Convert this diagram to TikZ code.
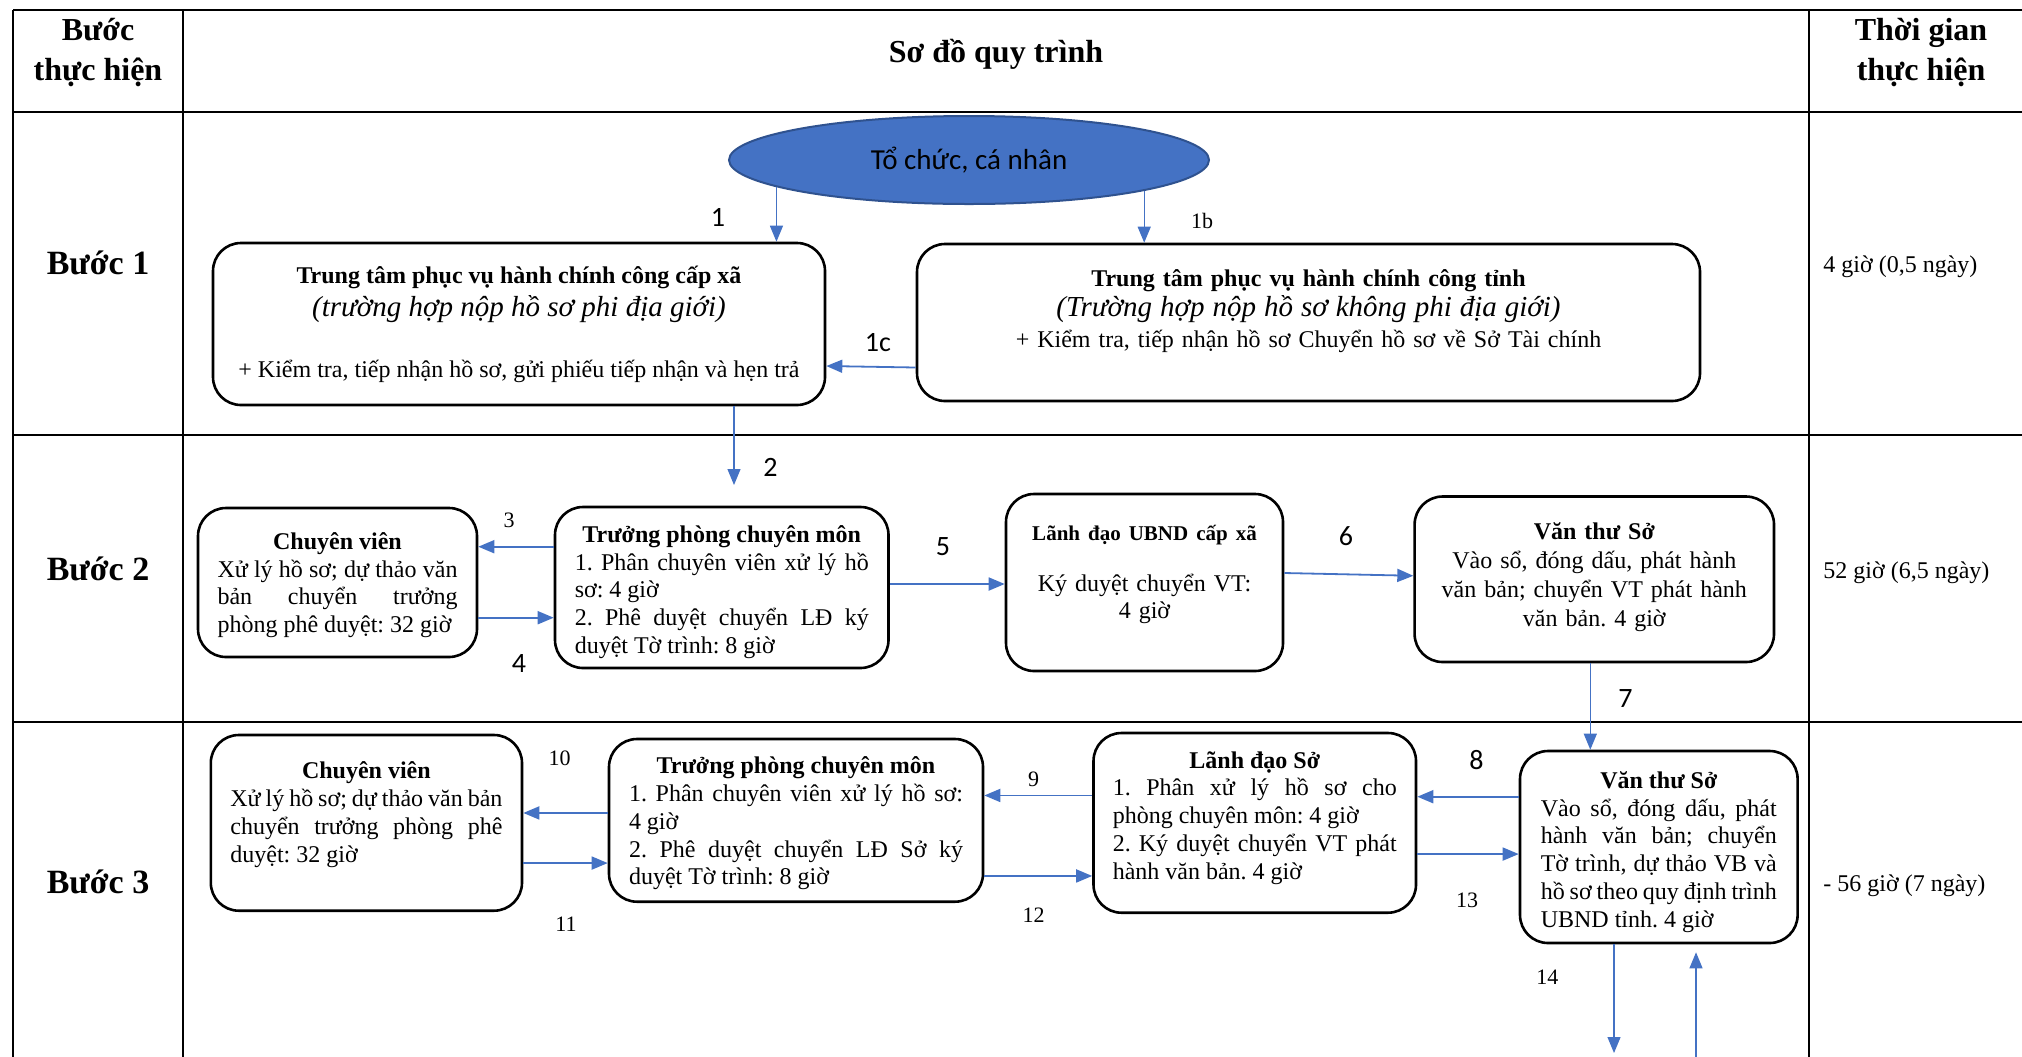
\documentclass[tikz,border=0pt]{standalone}
\usepackage{fontspec}
\setmainfont{Liberation Serif}
\newfontfamily\calib{Carlito}
\usetikzlibrary{shapes.geometric}
\usetikzlibrary{arrows.meta}
\definecolor{orgblue}{HTML}{4472C4}
\definecolor{orgline}{HTML}{2F528F}
\definecolor{arrblue}{HTML}{4472C4}
\hyphenpenalty=10000
\exhyphenpenalty=10000
\frenchspacing
\newcommand{\padtop}[1]{\rule{0pt}{#1}\par\nointerlineskip}
\newcommand{\padbot}[1]{\par\nointerlineskip\rule{0pt}{#1}}
\tikzset{
  box/.style= {draw, rounded corners=14pt, line width=1.3pt, inner sep=3pt,
    font=\fontsize{12}{13.9}\selectfont, execute at begin node=\fontsize{12}{13.9}\selectfont\frenchspacing},
  jbox/.style= {box, align=justify},
  cbox/.style= {box, align=center},
  org/.style= {ellipse, draw=orgline, fill=orgblue, line width=1pt, inner sep=0pt,
    minimum width=240pt, minimum height=44pt, font=\calib\fontsize{14.5}{17}\selectfont},
  arr/.style= {-{Triangle[length=8pt,width=6.5pt]}, draw=arrblue, line width=0.9pt},
  tarr/.style= {arr, line width=0.6pt},
  lbl/.style= {inner sep=0pt, font=\calib\fontsize{14}{16}\selectfont},
  num/.style= {inner sep=0pt, font=\fontsize{11}{13}\selectfont},
  head/.style= {align=center, inner sep=0pt, font=\bfseries\fontsize{16}{20}\selectfont},
  stepname/.style= {inner sep=0pt, font=\bfseries\fontsize{17}{20}\selectfont},
  tm/.style= {anchor=west, inner sep=0pt, font=\fontsize{12}{14}\selectfont},
  tline/.style= {line width=1.2pt},
}
\begin{document}
\begin{tikzpicture}[x=0.5pt, y=-0.5pt]
  \useasboundingbox (0,0) rectangle (2022,1056);
  \clip (0,0) rectangle (2022,1056);

  \draw[tline] (13,10) -- (2040,10);
  \draw[tline] (13,112) -- (2040,112);
  \draw[tline] (13,435) -- (2040,435);
  \draw[tline] (13,722) -- (2040,722);
  \draw[tline] (13,10) -- (13,1070);
  \draw[tline] (183,10) -- (183,1070);
  \draw[tline] (1809,10) -- (1809,1070);

  \node[head] (hstep) at (98,53) {Bước\\thực hiện};
  \node[head] (hflow) at (996,54.5) {Sơ đồ quy trình};
  \node[head] (htime) at (1921,53) {Thời gian\\thực hiện};

  \node[stepname] (s1) at (98,263) {Bước 1};
  \node[stepname] (s2) at (98,569) {Bước 2};
  \node[stepname] (s3) at (98,882) {Bước 3};

  \node[tm] (t1) at (1823,267) {4 giờ (0,5 ngày)};
  \node[tm] (t2) at (1823,573) {52 giờ (6,5 ngày)};
  \node[tm] (t3) at (1823,886) {- 56 giờ (7 ngày)};

  \node[org] (org) at (969,160) {Tổ chức, cá nhân};

  \node[cbox, minimum width=306pt, minimum height=81pt] (xa) at (519,324)
    {\textbf{Trung tâm phục vụ hành chính công cấp xã}\\[2.7pt]
     {\itshape\fontsize{14.5}{16}\selectfont (trường hợp nộp hồ sơ phi địa giới)}\\[16.5pt]
     + Kiểm tra, tiếp nhận hồ sơ, gửi phiếu tiếp nhận và hẹn trả};
  \node[cbox, text width=385pt, minimum width=391.5pt, minimum height=78.5pt] (tinh) at (1308.5,322.5)
    {\textbf{Trung tâm phục vụ hành chính công tỉnh}\\[1pt]
     {\itshape\fontsize{14.5}{16}\selectfont (Trường hợp nộp hồ sơ không phi địa giới)}\\[1.5pt]
     + Kiểm tra, tiếp nhận hồ sơ Chuyển hồ sơ về Sở Tài chính\padbot{11.6pt}};

  \node[jbox, text width=120pt, minimum width=139.5pt, minimum height=74.5pt] (cv2) at (337.5,582.5)
    {\padtop{2.6pt}{\centering\textbf{Chuyên viên}\par}
     Xử lý hồ sơ; dự thảo văn\linebreak bản chuyển trưởng\linebreak phòng phê duyệt: 32 giờ};
  \node[jbox, text width=147pt, minimum width=166.75pt, minimum height=80.5pt] (tp2) at (721.75,587.5)
    {\padtop{4.5pt}{\centering\textbf{Trưởng phòng chuyên môn}\par}
     1. Phân chuyên viên xử lý hồ\linebreak sơ: 4 giờ\\
     2. Phê duyệt chuyển LĐ ký\linebreak duyệt Tờ trình: 8 giờ};
  \node[cbox, text width=130pt, minimum width=138.5pt, minimum height=88.5pt] (ubnd) at (1144.5,582.5)
    {{\bfseries\fontsize{10.5}{12}\selectfont Lãnh đạo UBND cấp xã}\\[11.5pt]
     Ký duyệt chuyển VT:\\4 giờ\padbot{8pt}};
  \node[cbox, text width=172pt, minimum width=179.7pt, minimum height=82.75pt] (vt2) at (1594.3,579.25)
    {\textbf{Văn thư Sở}\\[0.6pt]Vào sổ, đóng dấu, phát hành\\[0.6pt]văn bản; chuyển VT phát hành\\[0.6pt]văn bản. 4 giờ\padbot{2.5pt}};

  \node[jbox, text width=136pt, minimum width=155.6pt, minimum height=87.85pt] (cv3) at (366.4,822.85)
    {{\centering\textbf{Chuyên viên}\par}
     Xử lý hồ sơ; dự thảo văn bản\linebreak chuyển trưởng phòng phê\linebreak duyệt: 32 giờ\padbot{8.4pt}};
  \node[jbox, text width=167pt, minimum width=187pt, minimum height=81.35pt] (tp3) at (796,820.35)
    {\padtop{3pt}{\centering\textbf{Trưởng phòng chuyên môn}\par}
     1. Phân chuyên viên xử lý hồ sơ:\linebreak 4 giờ\\
     2. Phê duyệt chuyển LĐ Sở ký\linebreak duyệt Tờ trình: 8 giờ};
  \node[jbox, text width=142pt, minimum width=161.25pt, minimum height=89.85pt] (lds) at (1254.75,822.85)
    {{\centering\textbf{Lãnh đạo Sở}\par}
     1. Phân xử lý hồ sơ cho\linebreak phòng chuyên môn: 4 giờ\\
     2. Ký duyệt chuyển VT phát\linebreak hành văn bản. 4 giờ\padbot{5pt}};
  \node[jbox, text width=118pt, minimum width=138.8pt, minimum height=96pt] (vt3) at (1658.8,847)
    {\padtop{5pt}{\centering\textbf{Văn thư Sở}\par}
     Vào sổ, đóng dấu, phát\linebreak hành văn bản; chuyển\linebreak Tờ trình, dự thảo VB và\linebreak
     hồ sơ theo quy định trình\linebreak UBND tỉnh. 4 giờ};

  \coordinate (e2) at (734,485);
  \coordinate (e14) at (1614,1053);
  \coordinate (e15) at (1696,1070);

  \draw[tarr] (org.188) -- (org.188 |- xa.north);
  \draw[tarr] (org.350) -- (org.350 |- tinh.north);
  \draw[arr] ([yshift=-22.5pt]tinh.west) -- ([yshift=-21pt]xa.east);
  \draw[tarr] (xa.south -| e2) -- (e2);
  \draw[arr] ([yshift=20.4pt]tp2.west) -- ([yshift=20.4pt]tp2.west -| cv2.east);
  \draw[arr] ([yshift=-17.6pt]cv2.east) -- ([yshift=-17.6pt]cv2.east -| tp2.west);
  \draw[arr] ([yshift=1.75pt]tp2.east) -- ([yshift=1.75pt]tp2.east -| ubnd.west);
  \draw[arr] ([yshift=4.75pt]ubnd.east) -- ([yshift=1.75pt]vt2.west);
  \draw[tarr] ([xshift=-2pt]vt2.south) -- ([xshift=-2pt]vt2.south |- vt3.north);
  \draw[arr] ([yshift=25.15pt]vt3.west) -- ([yshift=25.15pt]vt3.west -| lds.east);
  \draw[arr] ([yshift=13.7pt]lds.west) -- ([yshift=13.7pt]lds.west -| tp3.east);
  \draw[arr] ([yshift=3.7pt]tp3.west) -- ([yshift=3.7pt]tp3.west -| cv3.east);
  \draw[arr] ([yshift=-20.1pt]cv3.east) -- ([yshift=-20.1pt]cv3.east -| tp3.west);
  \draw[arr] ([yshift=-27.8pt]tp3.east) -- ([yshift=-27.8pt]tp3.east -| lds.west);
  \draw[arr] ([yshift=-15.6pt]lds.east) -- ([yshift=-15.6pt]lds.east -| vt3.west);
  \draw[tarr] (vt3.south -| e14) -- (e14);
  \draw[tarr, shorten >=4pt] (e15) -- (vt3.south -| e15);

  \node[lbl] (n1) at (718,217) {1};
  \node[num] (n1b) at (1202,221) {1b};
  \node[lbl] (n1c) at (878,343) {1c};
  \node[lbl] (n2) at (770.5,467.7) {2};
  \node[num] (n3) at (509,520) {3};
  \node[lbl] (n4) at (519,663) {4};
  \node[lbl] (n5) at (943,546.7) {5};
  \node[lbl] (n6) at (1346,536) {6};
  \node[lbl] (n7) at (1625.5,699) {7};
  \node[lbl] (n8) at (1476.5,760) {8};
  \node[num] (n9) at (1033.6,779.3) {9};
  \node[num] (n10) at (559.6,758) {10};
  \node[num] (n11) at (566,924) {11};
  \node[num] (n12) at (1033.6,915) {12};
  \node[num] (n13) at (1467,900) {13};
  \node[num] (n14) at (1547.4,977.7) {14};
\end{tikzpicture}
\end{document}
